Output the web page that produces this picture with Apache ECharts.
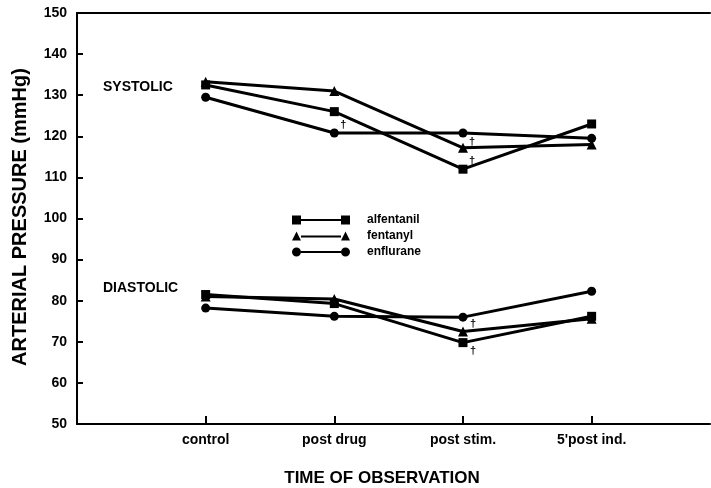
<!DOCTYPE html>
<html>
<head>
<meta charset="utf-8">
<script src="https://cdn.jsdelivr.net/npm/echarts@6/dist/echarts.min.js"></script>
<style>html,body{margin:0;padding:0;background:#fff}#c{width:711px;height:488px}</style>
</head>
<body>
<div id="c"></div>
<script>
const categories = ['control', 'post drug', 'post stim.', "5'post ind."];
const yTicks = [50, 60, 70, 80, 90, 100, 110, 120, 130, 140, 150];
const drugs = ['alfentanil', 'fentanyl', 'enflurane'];

const systolicAlfentanil = [132.5, 126, 112, 123];
const systolicFentanyl   = [133.3, 131, 117.2, 118];
const systolicEnflurane  = [129.5, 120.8, 120.8, 119.5];

const diastolicAlfentanil = [81.5, 79.3, 69.8, 76.2];
const diastolicFentanyl   = [81.0, 80.4, 72.5, 75.6];
const diastolicEnflurane  = [78.2, 76.2, 76.0, 82.3];

// indices of points flagged with a dagger (significance)
const systolicDaggers  = { alfentanil: [1, 2], fentanyl: [2], enflurane: [] };
const diastolicDaggers = { alfentanil: [2], fentanyl: [2], enflurane: [] };

const symbols = { alfentanil: 'rect', fentanyl: 'triangle', enflurane: 'circle' };
const symSizes = { alfentanil: 9, fentanyl: 10, enflurane: 9 };
const daggerOffsets = {
  sys: { alfentanil: [[0,0],[9,13],[9,-8]], fentanyl: [[0,0],[0,0],[9,-6]] },
  dia: { alfentanil: [[0,0],[0,0],[10,8]], fentanyl: [[0,0],[0,0],[10,-8]] }
};

const font = '"Liberation Sans", Arial, sans-serif';

function buildData(vals, daggers, offs) {
  return vals.map((v, i) => {
    const item = { value: [i + 1, v] };
    if (daggers.indexOf(i) >= 0) {
      item.label = {
        show: true, formatter: '\u2020', position: 'inside',
        offset: offs[i], color: '#000', fontSize: 11, fontWeight: 'bold', fontFamily: font
      };
    }
    return item;
  });
}

const sysVals = { alfentanil: systolicAlfentanil, fentanyl: systolicFentanyl, enflurane: systolicEnflurane };
const diaVals = { alfentanil: diastolicAlfentanil, fentanyl: diastolicFentanyl, enflurane: diastolicEnflurane };

const series = [];
drugs.forEach(d => {
  [['sys', sysVals[d], systolicDaggers[d]], ['dia', diaVals[d], diastolicDaggers[d]]].forEach(([k, vals, dg]) => {
    series.push({
      name: d, type: 'line',
      data: buildData(vals, dg, (daggerOffsets[k][d] || [])),
      symbol: symbols[d], symbolSize: symSizes[d], showAllSymbol: true,
      lineStyle: { color: '#000', width: 3 },
      itemStyle: { color: '#000' },
      emphasis: { disabled: true },
      animation: false, z: 3
    });
  });
});

const icons = {
  alfentanil: 'path://M0,0H9V9H0Z M9,3.5H49V5.5H9Z M49,0H58V9H49Z',
  fentanyl: 'path://M0,9L4.5,0L9,9Z M9,4H49V6H9Z M49,9L53.5,0L58,9Z',
  enflurane: 'path://M0,4.5A4.5,4.5 0 1 1 9,4.5A4.5,4.5 0 1 1 0,4.5Z M9,3.5H49V5.5H9Z M49,4.5A4.5,4.5 0 1 1 58,4.5A4.5,4.5 0 1 1 49,4.5Z'
};

const chart = echarts.init(document.getElementById('c'), null, { renderer: 'canvas' });
chart.setOption({
  backgroundColor: '#fff',
  animation: false,
  grid: { left: 77, right: 1, top: 13, bottom: 64, containLabel: false },
  legend: {
    orient: 'vertical', left: 287, top: 209,
    itemWidth: 58, itemHeight: 9, itemGap: 4,
    selectedMode: false,
    data: drugs.map(d => ({ name: d, icon: icons[d] })),
    itemStyle: { color: '#000', borderWidth: 0 },
    textStyle: { color: '#000', fontSize: 12, fontWeight: 'bold', fontFamily: font, padding: [0, 0, 0, 12] }
  },
  xAxis: [{
    type: 'value', min: 0, max: 4.92, interval: 1,
    axisLine: { show: true, lineStyle: { color: '#000', width: 2 } },
    axisTick: { show: true, inside: true, length: 8, lineStyle: { color: '#000', width: 2 } },
    axisLabel: {
      color: '#000', fontSize: 14, fontWeight: 'bold', fontFamily: font, margin: 9,
      showMinLabel: false, showMaxLabel: false,
      formatter: v => categories[Math.round(v) - 1] || ''
    },
    splitLine: { show: false }
  }, {
    type: 'value', position: 'top', min: 0, max: 4.92,
    axisLine: { show: true, onZero: false, lineStyle: { color: '#000', width: 2 } },
    axisTick: { show: false }, axisLabel: { show: false }, splitLine: { show: false }
  }],
  yAxis: {
    type: 'value', min: yTicks[0], max: yTicks[yTicks.length - 1], interval: 10,
    axisLine: { show: true, lineStyle: { color: '#000', width: 2 } },
    axisTick: { show: true, inside: true, length: 6, lineStyle: { color: '#000', width: 2 } },
    axisLabel: { color: '#000', fontSize: 14, fontWeight: 'bold', fontFamily: font, margin: 10 },
    splitLine: { show: false }
  },
  graphic: [
    { type: 'text', left: 103, top: 80, style: { text: 'SYSTOLIC', font: 'bold 14px ' + font, fill: '#000' } },
    { type: 'text', left: 103, top: 281, style: { text: 'DIASTOLIC', font: 'bold 14px ' + font, fill: '#000' } },
    { type: 'text', x: 382, y: 478, style: { text: 'TIME OF OBSERVATION', font: 'bold 17px ' + font, fill: '#000', align: 'center', verticalAlign: 'middle' } },
    { type: 'text', x: 20, y: 217, rotation: Math.PI / 2, style: { text: 'ARTERIAL PRESSURE (mmHg)', font: 'bold 20px ' + font, fill: '#000', align: 'center', verticalAlign: 'middle' } }
  ],
  series: series
});
</script>
</body>
</html>
